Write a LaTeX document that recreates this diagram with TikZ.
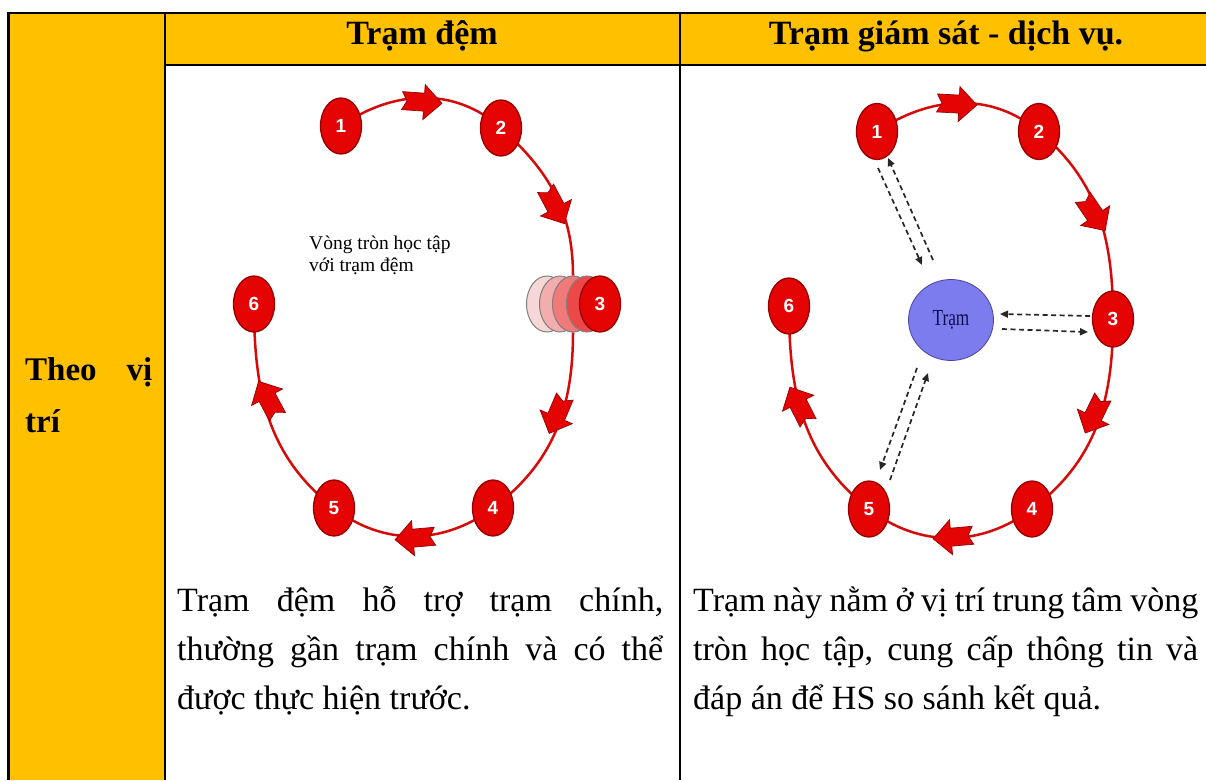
\documentclass[tikz,border=0pt]{standalone}
\usepackage{fontspec}
\setmainfont{Liberation Serif}
\newfontfamily\numfont{Liberation Sans}
\newfontfamily\condfont[FakeStretch=0.75]{Liberation Serif}
\usetikzlibrary{shapes.geometric,arrows.meta}
\definecolor{hdr}{RGB}{255,192,0}
\definecolor{nodered}{RGB}{228,4,4}
\definecolor{rimred}{RGB}{150,0,0}
\definecolor{ringred}{RGB}{215,10,10}
\definecolor{tramblue}{RGB}{124,124,238}
\definecolor{tramrim}{RGB}{70,70,150}
\definecolor{tramtext}{RGB}{15,15,80}
\definecolor{ghostA}{RGB}{246,214,214}
\definecolor{ghostB}{RGB}{244,172,172}
\definecolor{ghostC}{RGB}{240,122,122}
\definecolor{ghostD}{RGB}{236,72,72}
\tikzset{
  blockarrow/.pic={\filldraw[fill=nodered, draw=rimred, line width=0.7pt]
    (-20,-9) -- (2,-9) -- (2,-17.5) -- (20,0) -- (2,17.5) -- (2,9) -- (-20,9) -- (-15,0) -- cycle;}
}
\begin{document}
\begin{tikzpicture}[x=1pt,y=1pt,
  stn/.style={ellipse, fill=nodered, draw=rimred, line width=1.3pt, minimum width=41pt,
    minimum height=56pt, inner sep=0pt, text=white,
    font=\numfont\bfseries\fontsize{19}{19}\selectfont},
  ghost/.style={ellipse, draw=gray, line width=1pt, minimum width=41pt,
    minimum height=56pt, inner sep=0pt},
  ring/.style={draw=ringred, line width=2.5pt},
  dashar/.style={draw=black!85, line width=1.7pt, dash pattern=on 5pt off 3.5pt,
    -{Triangle[length=8pt,width=7pt]}},
  body/.style={font=\fontsize{34}{49}\selectfont, align=justify, anchor=base west, inner sep=0pt},
  head/.style={font=\bfseries\fontsize{34}{40}\selectfont, anchor=base, inner sep=0pt},
]
\useasboundingbox (0,0) rectangle (1206,780);
\fill[white] (0,0) rectangle (1206,780);
% table
\fill[hdr] (8,0) rectangle (165,767);
\fill[hdr] (165,715) rectangle (1206,767);
\draw[line width=2.5pt] (7,767) -- (1206,767);
\draw[line width=2pt] (165,715) -- (1206,715);
\draw[line width=2.5pt] (8.5,768) -- (8.5,0);
\draw[line width=2pt] (165,768) -- (165,0);
\draw[line width=1.5pt] (680,768) -- (680,0);

\node[head] (h1) at (422,735) {Trạm đệm};
\node[head] (h2) at (946,735) {Trạm giám sát - dịch vụ.};
\node[font=\bfseries\fontsize{33}{52}\selectfont, align=justify, text width=127pt,
  anchor=base west, inner sep=0pt] (pos) at (25,400) {Theo vị\linebreak trí};

% ---------- left diagram ----------
\node[ghost, fill=ghostC] (g3) at (573,476) {};
\coordinate (L1c) at (341,654);
\coordinate (L2c) at (501,652);
\coordinate (L4c) at (493,272);
\coordinate (L5c) at (334,272);
\coordinate (L6c) at (254,476);
\draw[ring] (L1c) to[out=35,in=138] (L2c) to[out=-42,in=90] (g3.north)
  (g3.south) to[out=-90,in=37] (L4c) to[out=217,in=-38] (L5c) to[out=142,in=-90] (L6c);
\node[ghost, fill=ghostA] (g1) at (547,476) {};
\node[ghost, fill=ghostB] (g2) at (560,476) {};
\node[ghost, fill=ghostC] (g3b) at (573,476) {};
\node[ghost, fill=ghostD] (g4) at (587,476) {};
\pic[rotate=-4] at (422,678) {blockarrow};
\pic[rotate=-62] at (555,574) {blockarrow};
\pic[rotate=247] at (557,365) {blockarrow};
\pic[rotate=185] at (415,242) {blockarrow};
\pic[rotate=118] at (268,381) {blockarrow};
\node[stn] (L1) at (L1c) {1};
\node[stn] (L2) at (L2c) {2};
\node[stn] (L3) at (600,476) {3};
\node[stn] (L4) at (L4c) {4};
\node[stn] (L5) at (L5c) {5};
\node[stn] (L6) at (L6c) {6};
\node[font=\fontsize{19.5}{22}\selectfont, align=left, anchor=base west, inner sep=0pt,
  text=black] (lbl) at (309,508) {Vòng tròn học tập\\với trạm đệm};

% ---------- right diagram ----------
\coordinate (R1c) at (877,648.5);
\coordinate (R2c) at (1039,648.5);
\coordinate (R3c) at (1113,461);
\coordinate (R4c) at (1032,271);
\coordinate (R5c) at (869,271);
\coordinate (R6c) at (789,474);
\draw[ring] (R1c) to[out=34,in=140] (R2c) to[out=-40,in=90] (R3c)
  to[out=-90,in=37] (R4c) to[out=217,in=-38] (R5c) to[out=142,in=-90] (R6c);
\pic[rotate=-3] at (957,676) {blockarrow};
\pic[rotate=-56] at (1094,566) {blockarrow};
\pic[rotate=244] at (1094,365) {blockarrow};
\pic[rotate=185] at (953,243) {blockarrow};
\pic[rotate=117] at (799,375) {blockarrow};
\node[stn] (R1) at (R1c) {1};
\node[stn] (R2) at (R2c) {2};
\node[stn] (R3) at (R3c) {3};
\node[stn] (R4) at (R4c) {4};
\node[stn] (R5) at (R5c) {5};
\node[stn] (R6) at (R6c) {6};
\node[ellipse, fill=tramblue, draw=tramrim, line width=0.8pt, minimum width=85pt,
  minimum height=81pt, inner sep=0pt, text=tramtext,
  font=\condfont\fontsize{23}{23}\selectfont] (Tram) at (951,460) {Trạm};
\coordinate (d1a) at (878,612); \coordinate (d1b) at (922,515);
\coordinate (d2a) at (933,520); \coordinate (d2b) at (888,622);
\coordinate (d3a) at (1090,464); \coordinate (d3b) at (1000,466);
\coordinate (d4a) at (1002,451); \coordinate (d4b) at (1088,448);
\coordinate (d5a) at (917,412); \coordinate (d5b) at (880,310);
\coordinate (d6a) at (890,300); \coordinate (d6b) at (928,407);
\draw[dashar] (d1a) -- (d1b);
\draw[dashar] (d2a) -- (d2b);
\draw[dashar] (d3a) -- (d3b);
\draw[dashar] (d4a) -- (d4b);
\draw[dashar] (d5a) -- (d5b);
\draw[dashar] (d6a) -- (d6b);

% ---------- body text ----------
\node[body, text width=486pt] (t1) at (177,169)
  {Trạm đệm hỗ trợ trạm chính,\linebreak thường gần trạm chính và có thể\linebreak được thực hiện trước.};
\node[body, text width=505pt] (t2) at (693,169)
  {Trạm này nằm ở vị trí trung tâm vòng\linebreak tròn học tập, cung cấp thông tin và\linebreak đáp án để HS so sánh kết quả.};
\end{tikzpicture}
\end{document}
